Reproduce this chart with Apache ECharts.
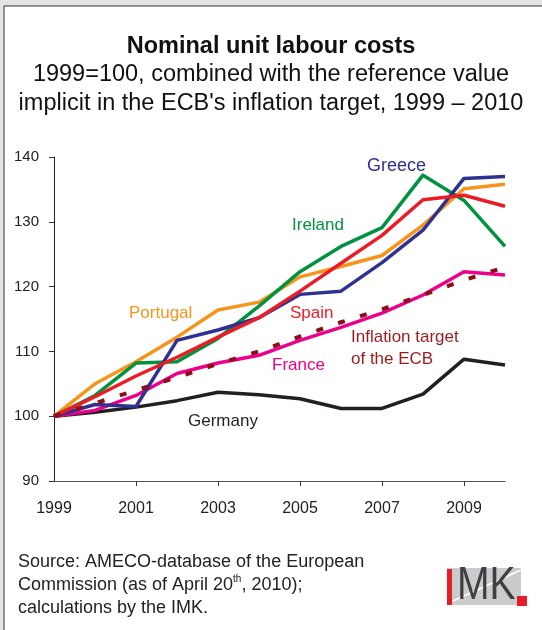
<!DOCTYPE html>
<html>
<head>
<meta charset="utf-8">
<script src="https://cdn.jsdelivr.net/npm/echarts@6/dist/echarts.min.js"></script>
<style>
  html, body { margin: 0; padding: 0; background: #e4e4e4; }
  #main { width: 542px; height: 630px; }
</style>
</head>
<body>
<div id="main"></div>
<script>
// years on the x axis
var years = ['1999', '2000', '2001', '2002', '2003', '2004', '2005', '2006', '2007', '2008', '2009', '2010'];

// index values, 1999 = 100
var greece   = [100, 101.8, 101.5, 111.7, 113.3, 115.2, 118.8, 119.3, 123.7, 128.7, 136.7, 137.0];
var ireland  = [100, 103.2, 108.2, 108.4, 112.0, 117.0, 122.3, 126.2, 129.1, 137.2, 133.3, 126.2];
var portugal = [100, 105.0, 108.4, 112.2, 116.4, 117.6, 121.5, 123.1, 124.8, 129.5, 135.1, 135.8];
var spain    = [100, 103.0, 106.2, 109.1, 112.2, 115.2, 119.3, 123.6, 127.9, 133.4, 134.1, 132.4];
var france   = [100, 100.9, 103.2, 106.6, 108.2, 109.4, 111.7, 113.7, 115.9, 118.7, 122.3, 121.8];
var germany  = [100, 100.6, 101.4, 102.4, 103.7, 103.3, 102.7, 101.2, 101.2, 103.4, 108.8, 107.9];
var ecb      = [100, 102.0, 104.0, 106.0, 108.1, 110.0, 112.3, 114.5, 116.5, 118.7, 121.0, 123.0];

var yTicks = [90, 100, 110, 120, 130, 140];

var myChart = echarts.init(document.getElementById('main'));

var font = 'Liberation Sans, Arial, sans-serif';

function line(name, data, color) {
    return {
        name: name,
        type: 'line',
        data: data,
        symbol: 'none',
        silent: true,
        lineStyle: { color: color, width: 3.5, join: 'round' }
    };
}

// free-standing series label
function lbl(text, x, y, color, extra) {
    var s = { text: text, fill: color, font: '17px ' + font };
    if (extra) { for (var k in extra) s[k] = extra[k]; }
    return { type: 'text', left: x, top: y, style: s, z: 10 };
}

var option = {
    backgroundColor: '#e4e4e4',
    animation: false,
    grid: { left: 54, right: 37, top: 157, bottom: 149 },
    xAxis: {
        type: 'category',
        data: years,
        boundaryGap: false,
        axisLine: { lineStyle: { color: '#555', width: 1 } },
        axisTick: {
            length: 5,
            lineStyle: { color: '#333' },
            interval: function (i) { return i % 2 === 0 && i > 0; }
        },
        axisLabel: {
            interval: function (i) { return i % 2 === 0; },
            margin: 20,
            color: '#222',
            fontSize: 16,
            fontFamily: font
        }
    },
    yAxis: {
        type: 'value',
        min: yTicks[0],
        max: yTicks[yTicks.length - 1],
        interval: 10,
        splitLine: { show: false },
        axisLine: { show: true, lineStyle: { color: '#222', width: 1 } },
        axisTick: { show: true, length: 5, lineStyle: { color: '#333' } },
        axisLabel: {
            margin: 15,
            color: '#222',
            fontSize: 15,
            fontFamily: font
        }
    },
    graphic: [
        // white panel with a thin frame at left and top
        { type: 'rect', shape: { x: 4, y: 6, width: 560, height: 640 },
          style: { fill: '#fff', stroke: '#333', lineWidth: 1 }, z: -10 },
        { type: 'text', left: 'center', top: 35,
          style: { text: 'Nominal unit labour costs', fill: '#111', font: 'bold 23.5px ' + font } },
        { type: 'text', left: 'center', top: 63,
          style: { text: '1999=100, combined with the reference value', fill: '#111', font: '23.5px ' + font } },
        { type: 'text', left: 'center', top: 92,
          style: { text: 'implicit in the ECB\'s inflation target, 1999 \u2013 2010', fill: '#111', font: '23.5px ' + font } },

        // series labels
        lbl('Greece', 367, 157, '#2e3192', { font: '18px ' + font }),
        lbl('Ireland', 292, 217, '#00923f'),
        lbl('Portugal', 129, 305, '#f7941d', { letterSpacing: 1.5 }),
        lbl('Spain', 290, 305, '#ed1c24'),
        lbl('Inflation target\nof the ECB', 351, 326, '#9b1b1e', { lineHeight: 22, letterSpacing: 0.5 }),
        lbl('France', 272, 357, '#ec008c', { letterSpacing: 0.5 }),
        lbl('Germany', 188, 413, '#231f20', { letterSpacing: 0.8 }),

        // source note
        { type: 'text', left: 18, top: 551,
          style: {
              text: 'Source: AMECO-database of the European\nCommission (as of April 20{sup|th}, 2010);\ncalculations by the IMK.',
              fill: '#222', font: '18px ' + font, lineHeight: 23,
              rich: { sup: { fontSize: 10, verticalAlign: 'top', padding: [0, 0, 9, 0], fill: '#222' } }
          } },

        // IMK logo
        { type: 'rect', shape: { x: 447, y: 568, width: 74, height: 37 }, style: { fill: '#c9cbcc' } },
        { type: 'line', shape: { x1: 453, y1: 601, x2: 521, y2: 570 }, style: { stroke: '#fff', lineWidth: 1.5 } },
        { type: 'rect', shape: { x: 447, y: 569, width: 5, height: 36 }, style: { fill: '#e31e24' } },
        { type: 'text', x: 457, y: 586.5, scaleX: 0.85,
          style: { text: 'MK', fill: '#3d3f41', font: '46px ' + font, verticalAlign: 'middle' } },
        { type: 'rect', shape: { x: 517, y: 596, width: 10, height: 10 }, style: { fill: '#e31e24' } }
    ],
    series: [
        line('Germany', germany, '#231f20'),
        line('France', france, '#ec008c'),
        line('Portugal', portugal, '#f7941d'),
        line('Ireland', ireland, '#00923f'),
        line('Greece', greece, '#2e3192'),
        line('Spain', spain, '#ed1c24'),
        {
            name: 'Inflation target of the ECB',
            type: 'line',
            data: ecb,
            symbol: 'none',
            silent: true,
            z: 5,
            lineStyle: { color: '#8b0f14', width: 4, type: [7, 16] }
        }
    ]
};

myChart.setOption(option);
</script>
</body>
</html>
